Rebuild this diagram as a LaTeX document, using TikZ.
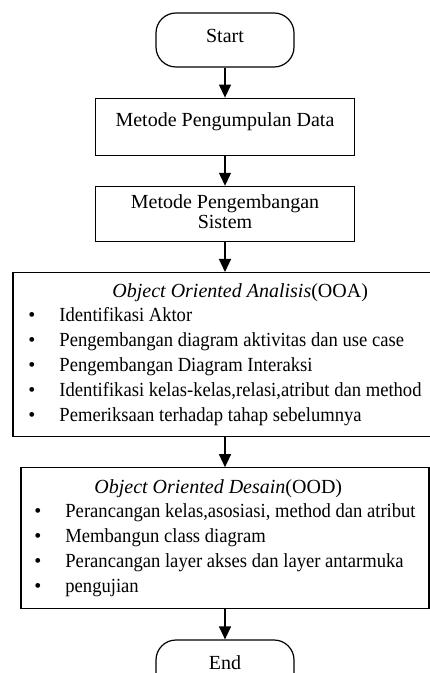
\documentclass[tikz,border=0pt]{standalone}
\usepackage{fontspec}
\setmainfont{Liberation Serif}
\newfontfamily\listfont{Liberation Serif}[FakeStretch=0.93]
\usetikzlibrary{positioning, arrows.meta}

\newcommand{\poin}[1]{\makebox[15.5pt][l]{\textbullet}{\listfont #1}}

\begin{document}
\begin{tikzpicture}[
  node distance=15pt,
  terminal/.style={draw, rectangle, rounded corners=10pt, minimum width=69pt, minimum height=27pt, text height=7pt, font=\fontsize{10}{12}\selectfont},
  box/.style={draw, rectangle, minimum width=129.5pt, font=\fontsize{10}{12}\selectfont},
  bigbox/.style={draw, rectangle, align=left, inner ysep=2pt, font=\fontsize{10}{12.5}\selectfont},
  arrow/.style={-{Triangle[width=6pt,length=6.5pt]}, line width=0.6pt},
  every node/.style={line width=0.6pt}
]

\useasboundingbox (-112.5pt,-316.5pt) rectangle (102pt,20pt);

% Nodes
\node[terminal, text depth=4pt] (start) {Start};
\node[box, below=of start, minimum height=28.5pt, text height=7pt, text depth=7pt] (data) {Metode Pengumpulan Data};
\node[box, below=of data, minimum height=27.5pt, align=center, text height=17.5pt, text depth=3pt] (sistem) {Metode Pengembangan\\[-2pt]Sistem};
\node[bigbox, below=of sistem, minimum width=212pt, minimum height=82pt] (ooa) {%
  \hspace*{42pt}\textit{Object Oriented Analisis}(OOA)\\[-0.5pt]
  \poin{Identifikasi Aktor}\\
  \poin{Pengembangan diagram aktivitas dan use case}\\
  \poin{Pengembangan Diagram Interaksi}\\
  \poin{Identifikasi kelas-kelas,relasi,atribut dan method}\\
  \poin{Pemeriksaan terhadap tahap sebelumnya}};
\node[bigbox, below=of ooa, minimum width=204pt, minimum height=70.5pt] (ood) {%
  \hspace*{30pt}\textit{Object Oriented Desain}(OOD)\\[-0.5pt]
  \poin{Perancangan kelas,asosiasi, method dan atribut}\\
  \poin{Membangun class diagram}\\
  \poin{Perancangan layer akses dan layer antarmuka}\\
  \poin{pengujian}};
\node[terminal, below=of ood, text depth=5pt] (stop) {End};

% Lines
\draw[arrow] (start) -- (data);
\draw[arrow] (data) -- (sistem);
\draw[arrow] (sistem) -- (ooa);
\draw[arrow] (ooa) -- (ood);
\draw[arrow] (ood) -- (stop);

\end{tikzpicture}
\end{document}
